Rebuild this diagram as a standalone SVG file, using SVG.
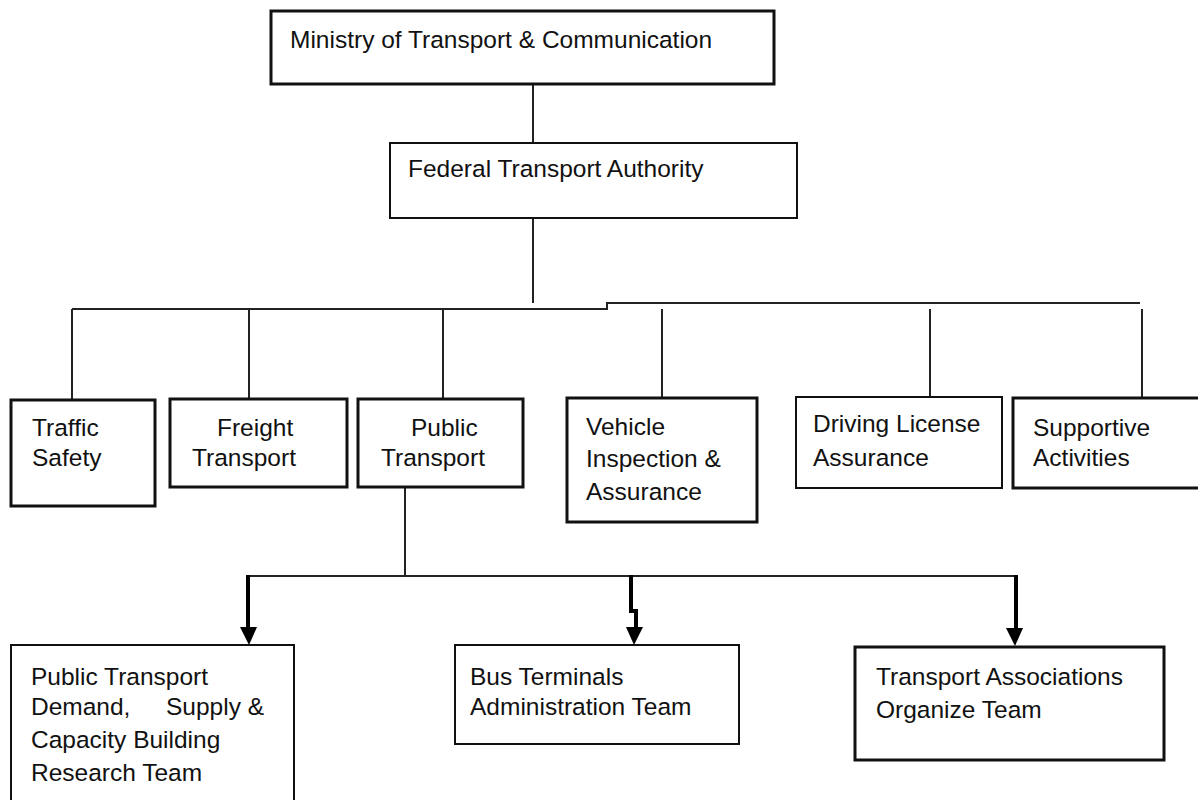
<svg xmlns="http://www.w3.org/2000/svg" width="1198" height="800" viewBox="0 0 1198 800">
<style>
.box{fill:#fff;stroke:#111;stroke-width:3}
.thin{stroke-width:2}
text{font-family:"Liberation Sans",Arial,sans-serif;font-size:24.5px;fill:#111}
.ln{fill:none;stroke:#222;stroke-width:2}
.sh{fill:none;stroke:#000;stroke-width:4}
.hd{fill:#000}
</style>
<rect width="1198" height="800" fill="#fff"/>
<g id="connectors">
<path class="ln" d="M533,84V143"/>
<path class="ln" d="M533,218V303"/>
<path class="ln" d="M72,309H607V303H1140"/>
<path class="ln" d="M72,309V400M249,309V399M443,309V399M662,309V398M930,309V397M1142,309V398"/>
<path class="ln" d="M405,487V576M247,576H1017"/>
<path class="sh" d="M248,575V630"/>
<path class="sh" d="M631,575V611H636V630"/>
<path class="sh" d="M1016,575V630"/>
<path class="hd" d="M240,627H257L249,645Z"/>
<path class="hd" d="M626,627H643L634,645Z"/>
<path class="hd" d="M1006,628H1023L1015,646Z"/>
</g>
<g id="ministry"><rect class="box" x="271" y="11" width="503" height="73"/><text x="290" y="48">Ministry of Transport &amp; Communication</text></g>
<g id="federal"><rect class="box thin" x="390" y="143" width="407" height="75"/><text x="408" y="177">Federal Transport Authority</text></g>
<g id="traffic"><rect class="box" x="11" y="400" width="144" height="106"/><text x="32" y="436">Traffic</text><text x="32" y="466">Safety</text></g>
<g id="freight"><rect class="box" x="170" y="399" width="177" height="88"/><text x="217" y="436">Freight</text><text x="192" y="466">Transport</text></g>
<g id="public"><rect class="box" x="358" y="399" width="165" height="88"/><text x="411" y="436">Public</text><text x="381" y="466">Transport</text></g>
<g id="vehicle"><rect class="box" x="567" y="398" width="190" height="124"/><text x="586" y="435">Vehicle</text><text x="586" y="467">Inspection &amp;</text><text x="586" y="500">Assurance</text></g>
<g id="driving"><rect class="box thin" x="796" y="397" width="206" height="91"/><text x="813" y="432">Driving License</text><text x="813" y="466">Assurance</text></g>
<g id="supportive"><rect class="box" x="1013" y="398" width="200" height="90"/><text x="1033" y="436">Supportive</text><text x="1033" y="466">Activities</text></g>
<g id="ptdemand"><rect class="box thin" x="11" y="645" width="283" height="170"/><text x="31" y="685">Public Transport</text><text x="31" y="715">Demand,</text><text x="166" y="715">Supply &amp;</text><text x="31" y="748">Capacity Building</text><text x="31" y="781">Research Team</text></g>
<g id="busterminals"><rect class="box thin" x="455" y="645" width="284" height="99"/><text x="470" y="685">Bus Terminals</text><text x="470" y="715">Administration Team</text></g>
<g id="associations"><rect class="box" x="855" y="647" width="309" height="113"/><text x="876" y="685">Transport Associations</text><text x="876" y="718">Organize Team</text></g>
</svg>
